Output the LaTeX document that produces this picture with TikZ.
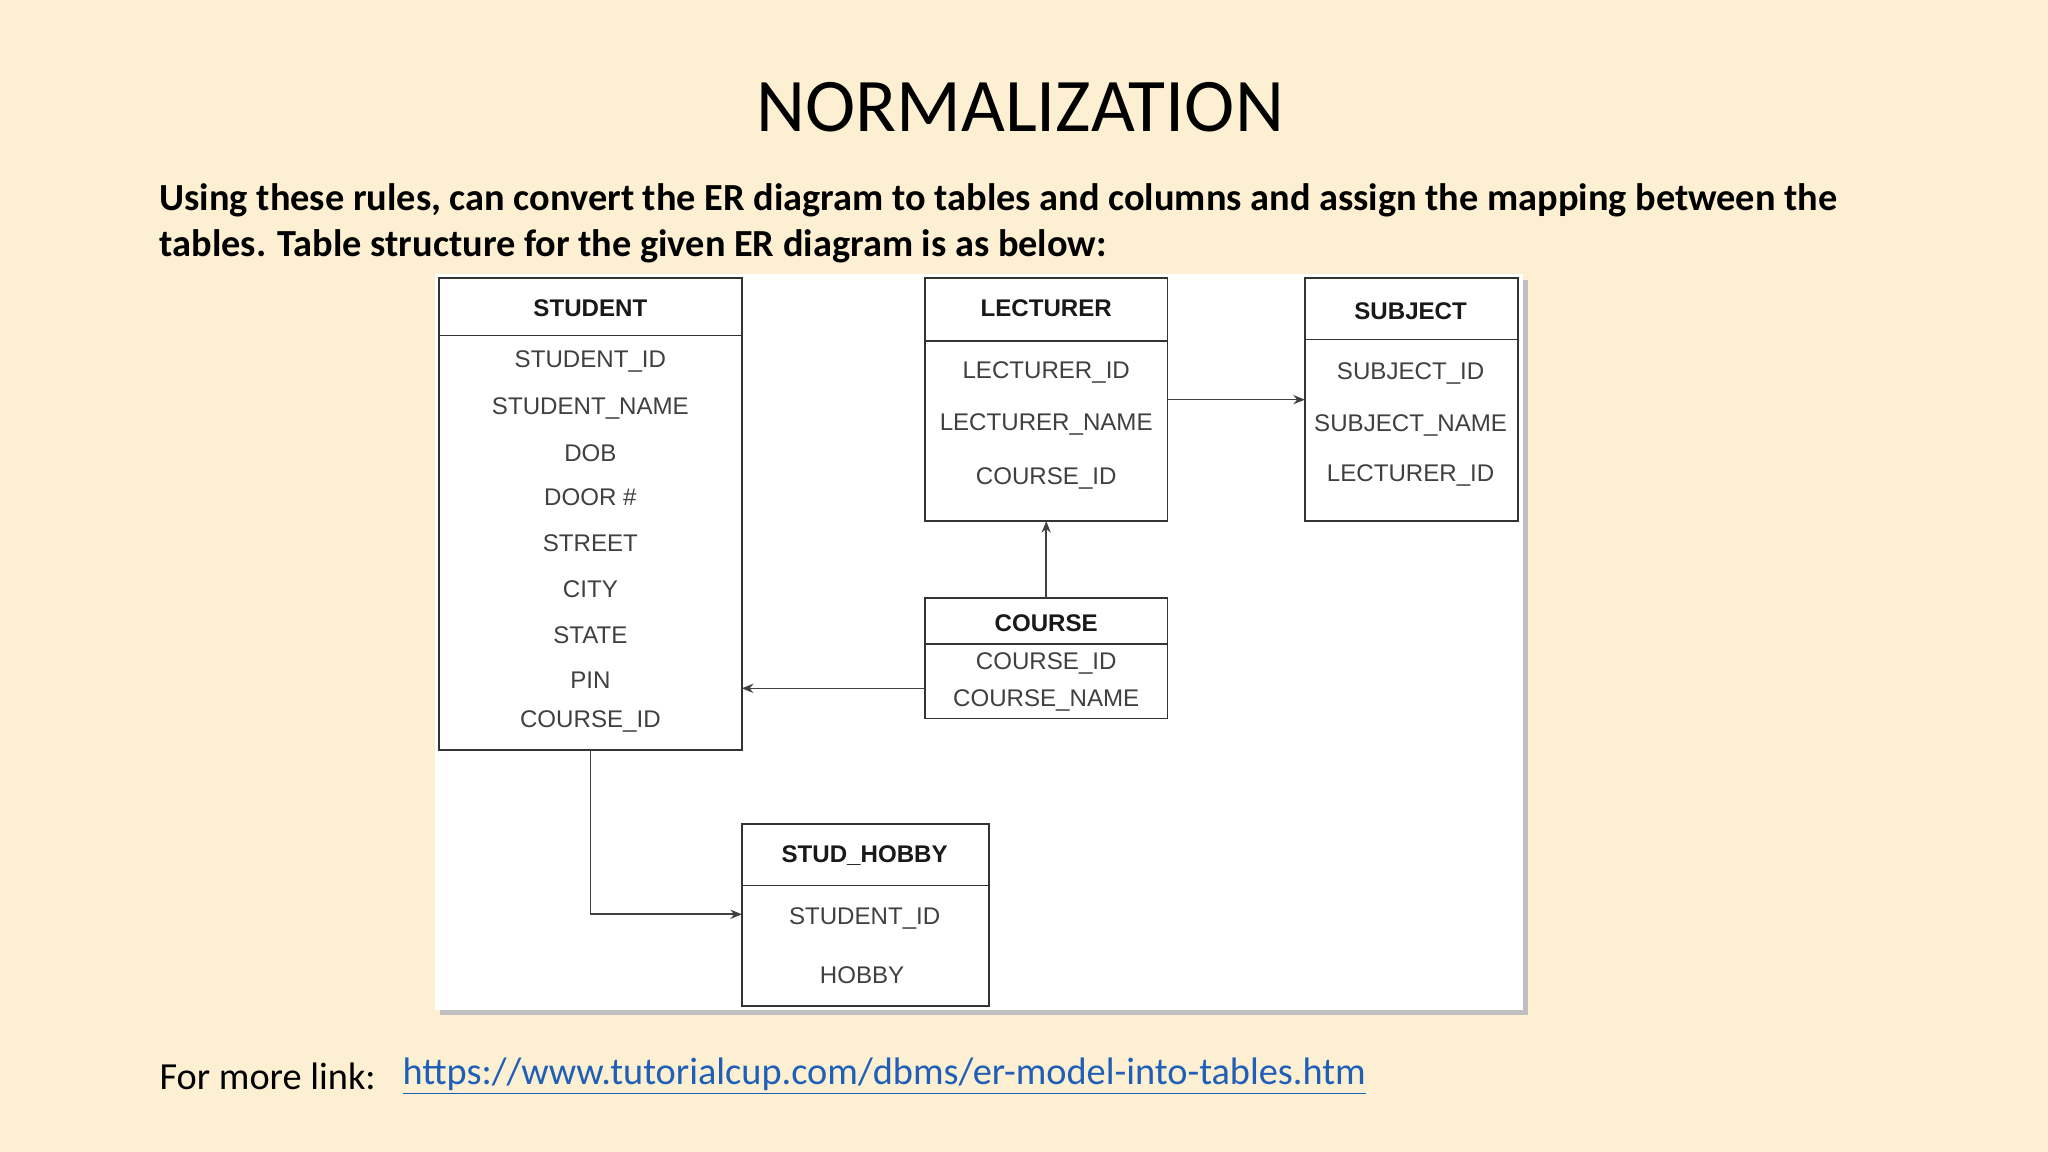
\documentclass[tikz,border=0pt]{standalone}
\usepackage{fontspec}
\setmainfont{Carlito}
\newfontfamily\dgm{Liberation Sans}
\usetikzlibrary{arrows.meta}
\definecolor{bg}{HTML}{FDEFD1}
\definecolor{linkc}{HTML}{1F5FB8}
\begin{document}
\begin{tikzpicture}[x=0.02cm,y=-0.02cm,
  tbl/.style={draw=black!80,line width=0.7pt,fill=white},
  hdr/.style={font=\dgm\fontsize{10.5}{12}\selectfont\bfseries,text=black!90},
  fld/.style={font=\dgm\fontsize{10.5}{12}\selectfont,text=black!75},
  conn/.style={draw=black!75,line width=0.7pt,-{Stealth[length=5pt,width=4pt]}}]
\fill[bg] (0,0) rectangle (1568,882);
\useasboundingbox (0,0) rectangle (1568,882);
\node (title) at (781,82) {\fontsize{33}{36}\selectfont NORMALIZATION};
\node[anchor=west,align=left,font=\fontsize{16.7}{19.9}\selectfont\bfseries] (para) at (116,171)
 {Using these rules, can convert the ER diagram to tables and columns and assign the mapping between the\\tables. Table structure for the given ER diagram is as below:};
% panel
\fill[black!25] (337,214) rectangle (1170,777);
\fill[white] (333,210) rectangle (1166,773);
% STUDENT
\draw[tbl] (336,213) rectangle (568,574);
\draw[black!80,line width=0.7pt] (336,257)--(568,257);
\node[hdr] (st) at (452,236) {STUDENT};
\foreach \t/\y in {STUDENT\_ID/277,STUDENT\_NAME/313,DOB/347,DOOR \#/381,STREET/416,CITY/451,STATE/486,PIN/521,COURSE\_ID/552}
  \node[fld] at (452,\y) {\t};
\coordinate (stb) at (452,574);
% LECTURER
\draw[tbl] (708,213) rectangle (894,399);
\draw[black!80,line width=0.7pt] (708,261)--(894,261);
\node[hdr] at (801,236) {LECTURER};
\foreach \t/\y in {LECTURER\_ID/285,LECTURER\_NAME/325,COURSE\_ID/366}
  \node[fld] at (801,\y) {\t};
% SUBJECT
\draw[tbl] (999,213) rectangle (1162,399);
\draw[black!80,line width=0.7pt] (999,260)--(1162,260);
\node[hdr] at (1080,238) {SUBJECT};
\foreach \t/\y in {SUBJECT\_ID/286,SUBJECT\_NAME/326,LECTURER\_ID/364}
  \node[fld] at (1080,\y) {\t};
% COURSE
\draw[tbl] (708,458) rectangle (894,550);
\draw[black!80,line width=0.7pt] (708,493)--(894,493);
\node[hdr] at (801,477) {COURSE};
\node[fld] at (801,508) {COURSE\_ID};
\node[fld] at (801,536) {COURSE\_NAME};
% STUD_HOBBY
\draw[tbl] (568,631) rectangle (757,770);
\draw[black!80,line width=0.7pt] (568,678)--(757,678);
\node[hdr] at (662,655) {STUD\_HOBBY};
\node[fld] at (662,703) {STUDENT\_ID};
\node[fld] at (660,747) {HOBBY};
% connectors
\coordinate (l1) at (894,306); \coordinate (s1) at (999,306);
\coordinate (c1) at (801,458); \coordinate (l2) at (801,399);
\coordinate (c2) at (708,527); \coordinate (st2) at (568,527);
\coordinate (h1) at (568,700);
\draw[conn] (l1)--(s1);
\draw[conn] (c1)--(l2);
\draw[conn] (c2)--(st2);
\draw[conn] (stb)|-(h1);
% footer
\node[anchor=west,font=\fontsize{16.7}{20}\selectfont] (more) at (116,824) {For more link:};
\node[anchor=west,font=\fontsize{16.7}{20}\selectfont,text=linkc] (link) at (302,824) {\underline{https://www.tutorialcup.com/dbms/er-model-into-tables.htm}};
\end{tikzpicture}
\end{document}
